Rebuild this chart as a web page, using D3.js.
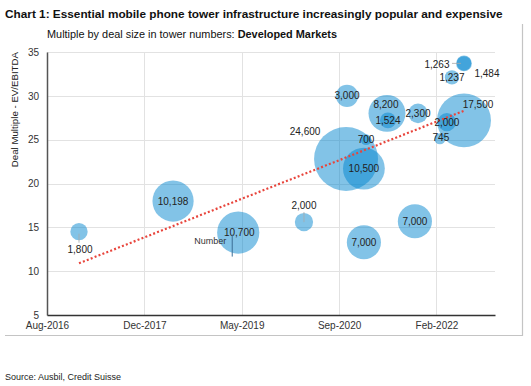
<!DOCTYPE html>
<html>
<head>
<meta charset="utf-8">
<script src="https://cdn.jsdelivr.net/npm/d3@7"></script>
<style>
  html, body { margin: 0; padding: 0; background: #fff; }
  svg { display: block; font-family: "Liberation Sans", Arial, Helvetica, sans-serif; }
</style>
</head>
<body>
<svg id="chart" width="531" height="386"></svg>
<script>
// ---------------- DATA ----------------
const dealDates = ["2017-01-27","2018-05-27","2019-04-28","2020-04-01","2020-11-09","2020-11-04","2021-02-15","2021-02-04","2021-02-04","2021-06-03","2021-06-08","2021-11-10","2021-10-25","2022-03-03","2022-04-08","2022-07-05","2022-05-04","2022-07-05","2022-07-05"];
const dealMultiples = [14.5, 18.0, 14.4, 15.6, 30.0, 22.8, 25.0, 21.7, 13.3, 28.0, 27.2, 28.0, 15.7, 25.1, 27.0, 27.2, 32.1, 33.7, 33.7];
const dealSizes = [1800, 10198, 10700, 2000, 3000, 24600, 700, 10500, 7000, 8200, 1524, 2300, 7000, 745, 2000, 17500, 1237, 1263, 1484];
const trendDates = ["2017-01-27", "2022-07-05"];
const trendValues = [10.9, 28.3];
const yTicks = [5, 10, 15, 20, 25, 30, 35];
const xTickLabels = ["Aug-2016", "Dec-2017", "May-2019", "Sep-2020", "Feb-2022"];

// label placement hints (offset of label from bubble centre, px)
const labelOffsets = [[1,18],[0,0],[1,0],[0,-17],[0,0],[-41,-27],[0,0],[0,0],[0,0],[-1,-9],[0,0],[0,0],[0,0],[1,-1],[0,0],[14,-16],[0,0],[-27,1],[23,10]];
const leaders = {0: [[0,2],[0,11]], 3: [[0,-10],[0,0]], 17: [[-12,0],[-3,0]]};

// ---------------- CHART ----------------
const svg = d3.select("#chart");
const parse = d3.timeParse("%Y-%m-%d");
const x0 = parse("2016-08-15"), x1 = parse("2022-12-12");
const tickStepDays = 502;

const x = d3.scaleTime().domain([x0, x1]).range([47, 495]);
const y = d3.scaleLinear().domain([5, 35]).range([315, 52]);
const r = d3.scaleSqrt().domain([0, 24600]).range([0, 32]);

const xTickVals = xTickLabels.map((_, i) => d3.timeDay.offset(x0, i * tickStepDays));

// Frame (right & bottom only)
svg.append("path")
  .attr("d", "M522.5,24 V335.5 H5")
  .attr("fill", "none").attr("stroke", "#c4c4c4").attr("stroke-width", 1.2);

// Titles
svg.append("text").attr("x", 5).attr("y", 18)
  .attr("font-size", 11.8).attr("font-weight", "bold").attr("fill", "#111")
  .text("Chart 1: Essential mobile phone tower infrastructure increasingly popular and expensive");
const sub = svg.append("text").attr("x", 47).attr("y", 38).attr("font-size", 10.9).attr("fill", "#111");
sub.append("tspan").text("Multiple by deal size in tower numbers: ");
sub.append("tspan").attr("font-weight", "bold").text("Developed Markets");

// Gridlines
const g = svg.append("g");
g.selectAll(".hg").data(yTicks.filter(d => d > 5)).join("line")
  .attr("x1", 47).attr("x2", 495)
  .attr("y1", d => Math.round(y(d)) + 0.5).attr("y2", d => Math.round(y(d)) + 0.5)
  .attr("stroke", "#e2e2e2").attr("stroke-width", 1);
g.selectAll(".vg").data(xTickVals.slice(1)).join("line")
  .attr("x1", d => Math.round(x(d)) + 0.5).attr("x2", d => Math.round(x(d)) + 0.5)
  .attr("y1", 52).attr("y2", 315)
  .attr("stroke", "#e2e2e2").attr("stroke-width", 1);

// Axes
const yAxis = d3.axisLeft(y).tickValues(yTicks).tickSize(0).tickPadding(8);
const yg = svg.append("g").attr("transform", "translate(47,0)").call(yAxis);
yg.select(".domain").attr("stroke", "#555").attr("stroke-width", 1.5);
yg.selectAll("text").attr("font-size", 10).attr("fill", "#333").attr("font-family", "Liberation Sans, Arial, sans-serif");

const xAxis = d3.axisBottom(x).tickValues(xTickVals).tickFormat((d, i) => xTickLabels[i]).tickSize(0).tickPadding(7);
const xg = svg.append("g").attr("transform", "translate(0,315)").call(xAxis);
xg.select(".domain").attr("stroke", "#333").attr("stroke-width", 1.5);
xg.selectAll("text").attr("font-size", 10).attr("fill", "#333").attr("font-family", "Liberation Sans, Arial, sans-serif");

// Y title
svg.append("text")
  .attr("transform", "translate(18,52) rotate(-90)")
  .attr("text-anchor", "end").attr("font-size", 9.7).attr("fill", "#222")
  .text("Deal Multiple - EV/EBITDA");

// Data
const deals = dealDates.map((d, i) => ({ date: parse(d), mult: dealMultiples[i], size: dealSizes[i], off: labelOffsets[i], i }));

// Bubbles
svg.append("g").selectAll("circle").data(deals).join("circle")
  .attr("cx", d => x(d.date)).attr("cy", d => y(d.mult)).attr("r", d => r(d.size))
  .attr("fill", "rgb(0,133,207)").attr("fill-opacity", 0.49);

// Trendline
const trend = trendDates.map((d, i) => [x(parse(d)), y(trendValues[i])]);
svg.append("path").attr("d", d3.line()(trend))
  .attr("fill", "none").attr("stroke", "#e8453c").attr("stroke-width", 2.2)
  .attr("stroke-dasharray", "2 2.2");

// Leader lines
Object.entries(leaders).forEach(([k, seg]) => {
  const d = deals[+k];
  svg.append("line")
    .attr("x1", x(d.date) + seg[0][0]).attr("y1", y(d.mult) + seg[0][1])
    .attr("x2", x(d.date) + seg[1][0]).attr("y2", y(d.mult) + seg[1][1])
    .attr("stroke", "#aaa").attr("stroke-width", 0.8);
});

// Labels
svg.append("g").selectAll("text").data(deals).join("text")
  .attr("x", d => x(d.date) + d.off[0]).attr("y", d => y(d.mult) + d.off[1])
  .attr("dy", "0.35em").attr("text-anchor", "middle")
  .attr("font-size", 10).attr("fill", "#222")
  .text(d => d3.format(",")(d.size));

// "Number" annotation near the May-2019 bubble
const nd = deals[2];
svg.append("text").attr("x", x(nd.date) - 12).attr("y", y(nd.mult) + 8)
  .attr("dy", "0.35em").attr("text-anchor", "end").attr("font-size", 9).attr("fill", "#333")
  .text("Number");
svg.append("line")
  .attr("x1", x(nd.date) - 6).attr("x2", x(nd.date) - 6)
  .attr("y1", y(nd.mult) + 2).attr("y2", y(nd.mult) + 24)
  .attr("stroke", "#3b6e96").attr("stroke-width", 1);

// Source
svg.append("text").attr("x", 5).attr("y", 380).attr("font-size", 9).attr("fill", "#222")
  .text("Source: Ausbil, Credit Suisse");
</script>
</body>
</html>
